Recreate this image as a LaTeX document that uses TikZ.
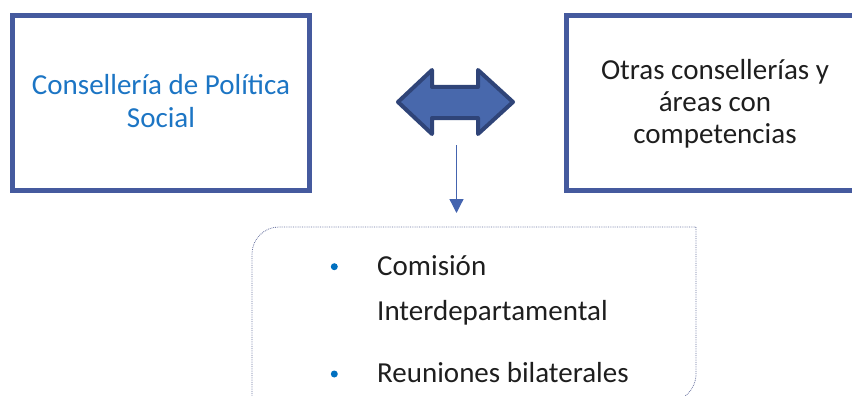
\documentclass[tikz,border=0pt]{standalone}
\usepackage{fontspec}
\setmainfont{Carlito}
\usetikzlibrary{arrows.meta}
\definecolor{boxblue}{RGB}{69,90,158}
\definecolor{titleblue}{RGB}{28,117,196}
\definecolor{arrowfill}{RGB}{72,104,172}
\definecolor{arrowedge}{RGB}{47,68,120}
\definecolor{thinarrow}{RGB}{68,100,175}
\definecolor{dotedge}{RGB}{105,115,160}
\definecolor{bulletblue}{RGB}{0,112,192}
\definecolor{textgray}{RGB}{30,30,30}
\tikzset{
  boxline/.style={draw=boxblue, line width=5pt},
  bigtext/.style={font=\fontsize{29}{33}\selectfont, inner sep=0pt},
  titletext/.style={bigtext, text=titleblue, anchor=base},
  othertext/.style={bigtext, text=textgray, anchor=base},
  listtext/.style={bigtext, text=textgray, anchor=base west},
  bulletdot/.style={circle, fill=bulletblue, inner sep=0pt, minimum size=7pt},
  dblarrow/.style={fill=arrowfill, draw=arrowedge, line width=4pt, line join=round},
  dotbox/.style={draw=dotedge, densely dotted, line width=0.8pt}
}
\begin{document}
\begin{tikzpicture}[x=1pt,y=-1pt]
\useasboundingbox (0,0) rectangle (852,396);
\clip (0,0) rectangle (852,396);
% left box
\draw[boxline] (12.5,15.5) rectangle (309.5,190.5);
\node[titletext] (l1) at (161,95) {Consellería de Política};
\node[titletext] (l2) at (161,127) {Social};
% right box
\draw[boxline] (566.5,15.5) rectangle (864,190.5);
\node[othertext] (r1) at (715,80) {Otras consellerías y};
\node[othertext] (r2) at (715,111.5) {áreas con};
\node[othertext] (r3) at (715,143) {competencias};
% double arrow
\draw[dblarrow] (398,102) -- (432,70) -- (432,87) -- (478,87) -- (478,70)
  -- (513,102) -- (478,134) -- (478,118) -- (432,118) -- (432,134) -- cycle;
% thin arrow
\coordinate (a1) at (456.5,145);
\coordinate (a2) at (456.5,213);
\draw[thinarrow, line width=1.3pt, -{Triangle[width=14pt,length=14pt]}] (a1) -- (a2);
% bottom box
\draw[dotbox] (252,410) -- (252,254) arc[start angle=180, end angle=270, radius=27]
  -- (696,227) -- (696,374) arc[start angle=0, end angle=90, radius=28]
  -- (240,402);
% list
\node[bulletdot] (b1) at (334.3,266.7) {};
\node[bulletdot] (b2) at (334.3,374) {};
\node[listtext] (t1) at (377,275) {Comisión};
\node[listtext] (t2) at (377,320) {Interdepartamental};
\node[listtext] (t3) at (377,382) {Reuniones bilaterales};
\end{tikzpicture}
\end{document}
